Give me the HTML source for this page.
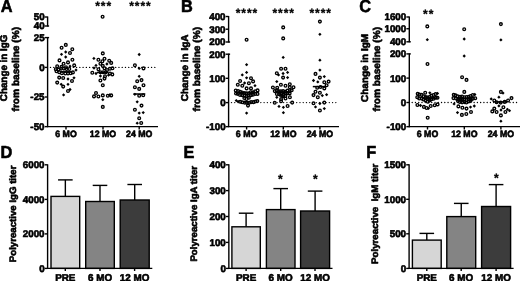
<!DOCTYPE html>
<html><head><meta charset="utf-8"><title>Figure</title>
<style>
html,body{margin:0;padding:0;background:#fff;}
svg{display:block;}
svg text{font-family:'Liberation Sans', Arial, Helvetica, sans-serif;font-weight:bold;text-rendering:geometricPrecision;fill:#000;stroke:#000;stroke-width:0.6px;stroke-linejoin:round;}
</style></head>
<body>
<svg width="520" height="281" viewBox="0 0 520 281">
<rect width="520" height="281" fill="#fff"/>
<text transform="translate(0.80 12.40) scale(0.94 1)" font-size="17.4" text-anchor="start" >A</text>
<text transform="translate(181.00 12.40) scale(0.94 1)" font-size="17.4" text-anchor="start" >B</text>
<text transform="translate(359.30 12.40) scale(0.94 1)" font-size="17.4" text-anchor="start" >C</text>
<text transform="translate(0.60 157.80) scale(0.94 1)" font-size="17.4" text-anchor="start" >D</text>
<text transform="translate(183.60 157.80) scale(0.94 1)" font-size="17.4" text-anchor="start" >E</text>
<text transform="translate(366.20 157.80) scale(0.94 1)" font-size="17.4" text-anchor="start" >F</text>
<line x1="47.60" y1="16.50" x2="47.60" y2="26.50" stroke="#000" stroke-width="1.4" />
<line x1="44.70" y1="17.00" x2="47.60" y2="17.00" stroke="#000" stroke-width="1.4" />
<text transform="translate(44.60 20.40) scale(1.015 1)" font-size="9.7" text-anchor="end" >50</text>
<line x1="44.70" y1="26.00" x2="49.10" y2="26.00" stroke="#000" stroke-width="1.4" />
<text transform="translate(44.60 29.40) scale(1.015 1)" font-size="9.7" text-anchor="end" >40</text>
<line x1="47.60" y1="37.10" x2="47.60" y2="127.15" stroke="#000" stroke-width="1.4" />
<line x1="44.70" y1="37.60" x2="49.10" y2="37.60" stroke="#000" stroke-width="1.4" />
<text transform="translate(44.60 41.00) scale(1.015 1)" font-size="9.7" text-anchor="end" >25</text>
<line x1="44.70" y1="67.40" x2="47.60" y2="67.40" stroke="#000" stroke-width="1.4" />
<text transform="translate(44.60 70.80) scale(1.015 1)" font-size="9.7" text-anchor="end" >0</text>
<line x1="44.70" y1="97.00" x2="47.60" y2="97.00" stroke="#000" stroke-width="1.4" />
<text transform="translate(44.60 100.40) scale(1.015 1)" font-size="9.7" text-anchor="end" >-25</text>
<line x1="44.70" y1="126.65" x2="47.60" y2="126.65" stroke="#000" stroke-width="1.4" />
<text transform="translate(44.60 130.05) scale(1.015 1)" font-size="9.7" text-anchor="end" >-50</text>
<line x1="47.10" y1="126.65" x2="158.00" y2="126.65" stroke="#000" stroke-width="1.4" />
<line x1="66.00" y1="126.65" x2="66.00" y2="129.50" stroke="#000" stroke-width="1.4" />
<text transform="translate(66.00 137.30) scale(0.955 1)" font-size="9.2" text-anchor="middle" >6 MO</text>
<line x1="103.00" y1="126.65" x2="103.00" y2="129.50" stroke="#000" stroke-width="1.4" />
<text transform="translate(103.00 137.30) scale(0.955 1)" font-size="9.2" text-anchor="middle" >12 MO</text>
<line x1="139.20" y1="126.65" x2="139.20" y2="129.50" stroke="#000" stroke-width="1.4" />
<text transform="translate(139.20 137.30) scale(0.955 1)" font-size="9.2" text-anchor="middle" >24 MO</text>
<line x1="50.50" y1="67.40" x2="155.80" y2="67.40" stroke="#000" stroke-width="1.4" stroke-dasharray="0.01 3.25" stroke-linecap="round"/>
<text x="7.10" y="67.90" font-size="9.9" text-anchor="middle" transform="rotate(-90 7.10 67.90)" textLength="66.60" lengthAdjust="spacingAndGlyphs" >Change in IgG</text>
<text x="18.70" y="69.20" font-size="9.9" text-anchor="middle" transform="rotate(-90 18.70 69.20)" textLength="84.60" lengthAdjust="spacingAndGlyphs" >from baseline (%)</text>
<text x="103.70" y="9.50" font-size="12" text-anchor="middle" style="stroke-width:0.3px;letter-spacing:0.95px">***</text>
<text x="140.40" y="9.50" font-size="12" text-anchor="middle" style="stroke-width:0.3px;letter-spacing:0.95px">****</text>
<circle cx="61.60" cy="47.70" r="1.36" fill="none" stroke="#000" stroke-width="1.35"/>
<circle cx="65.80" cy="44.90" r="1.36" fill="none" stroke="#000" stroke-width="1.35"/>
<circle cx="72.30" cy="49.30" r="1.36" fill="none" stroke="#000" stroke-width="1.35"/>
<circle cx="70.00" cy="53.00" r="1.36" fill="none" stroke="#000" stroke-width="1.35"/>
<circle cx="59.50" cy="60.40" r="1.36" fill="none" stroke="#000" stroke-width="1.35"/>
<circle cx="72.40" cy="59.70" r="1.36" fill="none" stroke="#000" stroke-width="1.35"/>
<circle cx="68.00" cy="62.40" r="1.36" fill="none" stroke="#000" stroke-width="1.35"/>
<circle cx="63.60" cy="63.80" r="1.36" fill="none" stroke="#000" stroke-width="1.35"/>
<circle cx="57.20" cy="66.20" r="1.36" fill="none" stroke="#000" stroke-width="1.35"/>
<circle cx="74.20" cy="65.40" r="1.36" fill="none" stroke="#000" stroke-width="1.35"/>
<circle cx="61.50" cy="66.80" r="1.36" fill="none" stroke="#000" stroke-width="1.35"/>
<circle cx="66.00" cy="67.20" r="1.36" fill="none" stroke="#000" stroke-width="1.35"/>
<circle cx="55.80" cy="69.20" r="1.36" fill="none" stroke="#000" stroke-width="1.35"/>
<circle cx="58.50" cy="69.60" r="1.36" fill="none" stroke="#000" stroke-width="1.35"/>
<circle cx="61.20" cy="68.60" r="1.36" fill="none" stroke="#000" stroke-width="1.35"/>
<circle cx="63.90" cy="68.60" r="1.36" fill="none" stroke="#000" stroke-width="1.35"/>
<circle cx="66.60" cy="69.00" r="1.36" fill="none" stroke="#000" stroke-width="1.35"/>
<circle cx="69.30" cy="69.00" r="1.36" fill="none" stroke="#000" stroke-width="1.35"/>
<circle cx="56.50" cy="71.20" r="1.36" fill="none" stroke="#000" stroke-width="1.35"/>
<circle cx="59.20" cy="72.20" r="1.36" fill="none" stroke="#000" stroke-width="1.35"/>
<circle cx="61.90" cy="73.20" r="1.36" fill="none" stroke="#000" stroke-width="1.35"/>
<circle cx="65.30" cy="73.50" r="1.36" fill="none" stroke="#000" stroke-width="1.35"/>
<circle cx="68.00" cy="73.50" r="1.36" fill="none" stroke="#000" stroke-width="1.35"/>
<circle cx="70.70" cy="73.20" r="1.36" fill="none" stroke="#000" stroke-width="1.35"/>
<circle cx="72.90" cy="72.40" r="1.36" fill="none" stroke="#000" stroke-width="1.35"/>
<circle cx="59.20" cy="77.60" r="1.36" fill="none" stroke="#000" stroke-width="1.35"/>
<circle cx="63.20" cy="78.00" r="1.36" fill="none" stroke="#000" stroke-width="1.35"/>
<circle cx="72.00" cy="81.00" r="1.36" fill="none" stroke="#000" stroke-width="1.35"/>
<circle cx="57.20" cy="82.60" r="1.36" fill="none" stroke="#000" stroke-width="1.35"/>
<circle cx="63.20" cy="86.60" r="1.36" fill="none" stroke="#000" stroke-width="1.35"/>
<circle cx="68.00" cy="91.00" r="1.36" fill="none" stroke="#000" stroke-width="1.35"/>
<path d="M65.70 50.35L67.35 52.00L65.70 53.65L64.05 52.00Z" fill="#000"/>
<path d="M61.50 52.65L63.15 54.30L61.50 55.95L59.85 54.30Z" fill="#000"/>
<path d="M65.70 55.35L67.35 57.00L65.70 58.65L64.05 57.00Z" fill="#000"/>
<path d="M70.00 64.55L71.65 66.20L70.00 67.85L68.35 66.20Z" fill="#000"/>
<path d="M76.00 68.35L77.65 70.00L76.00 71.65L74.35 70.00Z" fill="#000"/>
<path d="M68.00 77.35L69.65 79.00L68.00 80.65L66.35 79.00Z" fill="#000"/>
<path d="M74.00 76.15L75.65 77.80L74.00 79.45L72.35 77.80Z" fill="#000"/>
<path d="M61.20 82.65L62.85 84.30L61.20 85.95L59.55 84.30Z" fill="#000"/>
<path d="M68.00 82.65L69.65 84.30L68.00 85.95L66.35 84.30Z" fill="#000"/>
<path d="M70.00 87.85L71.65 89.50L70.00 91.15L68.35 89.50Z" fill="#000"/>
<path d="M63.60 93.25L65.25 94.90L63.60 96.55L61.95 94.90Z" fill="#000"/>
<line x1="60.80" y1="71.80" x2="71.60" y2="71.80" stroke="#000" stroke-width="1.5" />
<circle cx="102.60" cy="16.80" r="1.36" fill="none" stroke="#000" stroke-width="1.35"/>
<circle cx="102.80" cy="53.40" r="1.36" fill="none" stroke="#000" stroke-width="1.35"/>
<circle cx="98.40" cy="59.70" r="1.36" fill="none" stroke="#000" stroke-width="1.35"/>
<circle cx="104.50" cy="58.80" r="1.36" fill="none" stroke="#000" stroke-width="1.35"/>
<circle cx="102.40" cy="61.20" r="1.36" fill="none" stroke="#000" stroke-width="1.35"/>
<circle cx="109.20" cy="60.80" r="1.36" fill="none" stroke="#000" stroke-width="1.35"/>
<circle cx="111.20" cy="62.90" r="1.36" fill="none" stroke="#000" stroke-width="1.35"/>
<circle cx="100.40" cy="63.80" r="1.36" fill="none" stroke="#000" stroke-width="1.35"/>
<circle cx="102.80" cy="65.90" r="1.36" fill="none" stroke="#000" stroke-width="1.35"/>
<circle cx="98.40" cy="69.20" r="1.36" fill="none" stroke="#000" stroke-width="1.35"/>
<circle cx="104.50" cy="68.20" r="1.36" fill="none" stroke="#000" stroke-width="1.35"/>
<circle cx="107.00" cy="70.00" r="1.36" fill="none" stroke="#000" stroke-width="1.35"/>
<circle cx="110.00" cy="68.80" r="1.36" fill="none" stroke="#000" stroke-width="1.35"/>
<circle cx="112.50" cy="68.20" r="1.36" fill="none" stroke="#000" stroke-width="1.35"/>
<circle cx="92.30" cy="72.80" r="1.36" fill="none" stroke="#000" stroke-width="1.35"/>
<circle cx="100.40" cy="72.30" r="1.36" fill="none" stroke="#000" stroke-width="1.35"/>
<circle cx="103.10" cy="72.30" r="1.36" fill="none" stroke="#000" stroke-width="1.35"/>
<circle cx="105.80" cy="72.30" r="1.36" fill="none" stroke="#000" stroke-width="1.35"/>
<circle cx="110.00" cy="73.50" r="1.36" fill="none" stroke="#000" stroke-width="1.35"/>
<circle cx="112.30" cy="74.40" r="1.36" fill="none" stroke="#000" stroke-width="1.35"/>
<circle cx="105.00" cy="76.20" r="1.36" fill="none" stroke="#000" stroke-width="1.35"/>
<circle cx="104.50" cy="78.60" r="1.36" fill="none" stroke="#000" stroke-width="1.35"/>
<circle cx="100.40" cy="80.50" r="1.36" fill="none" stroke="#000" stroke-width="1.35"/>
<circle cx="102.80" cy="85.30" r="1.36" fill="none" stroke="#000" stroke-width="1.35"/>
<circle cx="96.00" cy="93.00" r="1.36" fill="none" stroke="#000" stroke-width="1.35"/>
<circle cx="94.00" cy="96.40" r="1.36" fill="none" stroke="#000" stroke-width="1.35"/>
<circle cx="98.40" cy="96.50" r="1.36" fill="none" stroke="#000" stroke-width="1.35"/>
<circle cx="102.80" cy="95.40" r="1.36" fill="none" stroke="#000" stroke-width="1.35"/>
<circle cx="107.80" cy="95.80" r="1.36" fill="none" stroke="#000" stroke-width="1.35"/>
<circle cx="111.20" cy="95.40" r="1.36" fill="none" stroke="#000" stroke-width="1.35"/>
<circle cx="102.80" cy="106.90" r="1.36" fill="none" stroke="#000" stroke-width="1.35"/>
<path d="M93.90 56.75L95.55 58.40L93.90 60.05L92.25 58.40Z" fill="#000"/>
<path d="M106.90 62.35L108.55 64.00L106.90 65.65L105.25 64.00Z" fill="#000"/>
<path d="M96.00 63.75L97.65 65.40L96.00 67.05L94.35 65.40Z" fill="#000"/>
<path d="M94.00 66.35L95.65 68.00L94.00 69.65L92.35 68.00Z" fill="#000"/>
<path d="M96.00 71.85L97.65 73.50L96.00 75.15L94.35 73.50Z" fill="#000"/>
<path d="M108.50 73.55L110.15 75.20L108.50 76.85L106.85 75.20Z" fill="#000"/>
<path d="M100.40 74.35L102.05 76.00L100.40 77.65L98.75 76.00Z" fill="#000"/>
<path d="M109.60 93.25L111.25 94.90L109.60 96.55L107.95 94.90Z" fill="#000"/>
<path d="M102.80 98.05L104.45 99.70L102.80 101.35L101.15 99.70Z" fill="#000"/>
<line x1="97.00" y1="72.40" x2="108.50" y2="72.40" stroke="#000" stroke-width="1.5" />
<circle cx="134.90" cy="65.30" r="1.36" fill="none" stroke="#000" stroke-width="1.35"/>
<circle cx="143.50" cy="68.40" r="1.36" fill="none" stroke="#000" stroke-width="1.35"/>
<circle cx="137.20" cy="81.20" r="1.36" fill="none" stroke="#000" stroke-width="1.35"/>
<circle cx="141.50" cy="80.10" r="1.36" fill="none" stroke="#000" stroke-width="1.35"/>
<circle cx="143.50" cy="85.30" r="1.36" fill="none" stroke="#000" stroke-width="1.35"/>
<circle cx="134.90" cy="87.30" r="1.36" fill="none" stroke="#000" stroke-width="1.35"/>
<circle cx="139.20" cy="88.90" r="1.36" fill="none" stroke="#000" stroke-width="1.35"/>
<circle cx="139.20" cy="95.70" r="1.36" fill="none" stroke="#000" stroke-width="1.35"/>
<circle cx="143.20" cy="95.30" r="1.36" fill="none" stroke="#000" stroke-width="1.35"/>
<circle cx="141.50" cy="105.60" r="1.36" fill="none" stroke="#000" stroke-width="1.35"/>
<circle cx="134.90" cy="109.70" r="1.36" fill="none" stroke="#000" stroke-width="1.35"/>
<circle cx="139.20" cy="118.20" r="1.36" fill="none" stroke="#000" stroke-width="1.35"/>
<circle cx="141.20" cy="123.00" r="1.36" fill="none" stroke="#000" stroke-width="1.35"/>
<path d="M139.20 52.85L140.85 54.50L139.20 56.15L137.55 54.50Z" fill="#000"/>
<path d="M139.20 66.75L140.85 68.40L139.20 70.05L137.55 68.40Z" fill="#000"/>
<path d="M139.20 74.65L140.85 76.30L139.20 77.95L137.55 76.30Z" fill="#000"/>
<path d="M134.90 92.65L136.55 94.30L134.90 95.95L133.25 94.30Z" fill="#000"/>
<path d="M137.20 100.15L138.85 101.80L137.20 103.45L135.55 101.80Z" fill="#000"/>
<path d="M139.20 111.45L140.85 113.10L139.20 114.75L137.55 113.10Z" fill="#000"/>
<path d="M143.20 110.95L144.85 112.60L143.20 114.25L141.55 112.60Z" fill="#000"/>
<path d="M137.20 121.55L138.85 123.20L137.20 124.85L135.55 123.20Z" fill="#000"/>
<line x1="133.40" y1="94.00" x2="145.30" y2="94.00" stroke="#000" stroke-width="1.5" />
<line x1="228.60" y1="16.00" x2="228.60" y2="42.50" stroke="#000" stroke-width="1.4" />
<line x1="225.70" y1="16.50" x2="228.60" y2="16.50" stroke="#000" stroke-width="1.4" />
<text transform="translate(225.60 19.90) scale(1.015 1)" font-size="9.7" text-anchor="end" >400</text>
<line x1="225.70" y1="29.20" x2="228.60" y2="29.20" stroke="#000" stroke-width="1.4" />
<text transform="translate(225.60 32.60) scale(1.015 1)" font-size="9.7" text-anchor="end" >300</text>
<line x1="225.70" y1="42.00" x2="230.10" y2="42.00" stroke="#000" stroke-width="1.4" />
<text transform="translate(225.60 45.40) scale(1.015 1)" font-size="9.7" text-anchor="end" >200</text>
<line x1="228.60" y1="53.70" x2="228.60" y2="127.15" stroke="#000" stroke-width="1.4" />
<line x1="225.70" y1="54.20" x2="230.10" y2="54.20" stroke="#000" stroke-width="1.4" />
<text transform="translate(225.60 57.60) scale(1.015 1)" font-size="9.7" text-anchor="end" >200</text>
<line x1="225.70" y1="78.30" x2="228.60" y2="78.30" stroke="#000" stroke-width="1.4" />
<text transform="translate(225.60 81.70) scale(1.015 1)" font-size="9.7" text-anchor="end" >100</text>
<line x1="225.70" y1="102.60" x2="228.60" y2="102.60" stroke="#000" stroke-width="1.4" />
<text transform="translate(225.60 106.00) scale(1.015 1)" font-size="9.7" text-anchor="end" >0</text>
<line x1="225.70" y1="126.65" x2="228.60" y2="126.65" stroke="#000" stroke-width="1.4" />
<text transform="translate(225.60 130.05) scale(1.015 1)" font-size="9.7" text-anchor="end" >-100</text>
<line x1="228.10" y1="126.65" x2="339.00" y2="126.65" stroke="#000" stroke-width="1.4" />
<line x1="246.60" y1="126.65" x2="246.60" y2="129.50" stroke="#000" stroke-width="1.4" />
<text transform="translate(246.60 137.30) scale(0.955 1)" font-size="9.2" text-anchor="middle" >6 MO</text>
<line x1="283.30" y1="126.65" x2="283.30" y2="129.50" stroke="#000" stroke-width="1.4" />
<text transform="translate(283.30 137.30) scale(0.955 1)" font-size="9.2" text-anchor="middle" >12 MO</text>
<line x1="319.90" y1="126.65" x2="319.90" y2="129.50" stroke="#000" stroke-width="1.4" />
<text transform="translate(319.90 137.30) scale(0.955 1)" font-size="9.2" text-anchor="middle" >24 MO</text>
<line x1="231.50" y1="102.60" x2="336.00" y2="102.60" stroke="#000" stroke-width="1.4" stroke-dasharray="0.01 3.25" stroke-linecap="round"/>
<text x="188.40" y="67.90" font-size="9.9" text-anchor="middle" transform="rotate(-90 188.40 67.90)" textLength="66.60" lengthAdjust="spacingAndGlyphs" >Change in IgA</text>
<text x="200.30" y="69.20" font-size="9.9" text-anchor="middle" transform="rotate(-90 200.30 69.20)" textLength="84.60" lengthAdjust="spacingAndGlyphs" >from baseline (%)</text>
<text x="247.00" y="16.85" font-size="12" text-anchor="middle" style="stroke-width:0.3px;letter-spacing:0.95px">****</text>
<text x="283.70" y="16.85" font-size="12" text-anchor="middle" style="stroke-width:0.3px;letter-spacing:0.95px">****</text>
<text x="320.70" y="16.85" font-size="12" text-anchor="middle" style="stroke-width:0.3px;letter-spacing:0.95px">****</text>
<circle cx="246.60" cy="39.70" r="1.36" fill="none" stroke="#000" stroke-width="1.35"/>
<circle cx="251.00" cy="78.20" r="1.36" fill="none" stroke="#000" stroke-width="1.35"/>
<circle cx="240.10" cy="81.00" r="1.36" fill="none" stroke="#000" stroke-width="1.35"/>
<circle cx="253.10" cy="81.40" r="1.36" fill="none" stroke="#000" stroke-width="1.35"/>
<circle cx="248.90" cy="83.20" r="1.36" fill="none" stroke="#000" stroke-width="1.35"/>
<circle cx="237.80" cy="84.70" r="1.36" fill="none" stroke="#000" stroke-width="1.35"/>
<circle cx="242.30" cy="85.70" r="1.36" fill="none" stroke="#000" stroke-width="1.35"/>
<circle cx="246.60" cy="88.40" r="1.36" fill="none" stroke="#000" stroke-width="1.35"/>
<circle cx="251.00" cy="88.40" r="1.36" fill="none" stroke="#000" stroke-width="1.35"/>
<circle cx="248.00" cy="105.60" r="1.36" fill="none" stroke="#000" stroke-width="1.35"/>
<circle cx="235.76" cy="90.49" r="1.36" fill="none" stroke="#000" stroke-width="1.35"/>
<circle cx="238.08" cy="90.98" r="1.36" fill="none" stroke="#000" stroke-width="1.35"/>
<circle cx="240.17" cy="91.80" r="1.36" fill="none" stroke="#000" stroke-width="1.35"/>
<circle cx="242.08" cy="92.49" r="1.36" fill="none" stroke="#000" stroke-width="1.35"/>
<circle cx="244.22" cy="92.98" r="1.36" fill="none" stroke="#000" stroke-width="1.35"/>
<circle cx="246.38" cy="93.23" r="1.36" fill="none" stroke="#000" stroke-width="1.35"/>
<circle cx="248.71" cy="93.33" r="1.36" fill="none" stroke="#000" stroke-width="1.35"/>
<circle cx="250.71" cy="92.23" r="1.36" fill="none" stroke="#000" stroke-width="1.35"/>
<circle cx="253.11" cy="92.32" r="1.36" fill="none" stroke="#000" stroke-width="1.35"/>
<circle cx="255.24" cy="91.27" r="1.36" fill="none" stroke="#000" stroke-width="1.35"/>
<circle cx="257.59" cy="90.39" r="1.36" fill="none" stroke="#000" stroke-width="1.35"/>
<circle cx="236.03" cy="93.51" r="1.36" fill="none" stroke="#000" stroke-width="1.35"/>
<circle cx="237.82" cy="93.86" r="1.36" fill="none" stroke="#000" stroke-width="1.35"/>
<circle cx="240.05" cy="94.98" r="1.36" fill="none" stroke="#000" stroke-width="1.35"/>
<circle cx="242.14" cy="95.27" r="1.36" fill="none" stroke="#000" stroke-width="1.35"/>
<circle cx="244.52" cy="95.59" r="1.36" fill="none" stroke="#000" stroke-width="1.35"/>
<circle cx="246.62" cy="95.81" r="1.36" fill="none" stroke="#000" stroke-width="1.35"/>
<circle cx="248.53" cy="95.44" r="1.36" fill="none" stroke="#000" stroke-width="1.35"/>
<circle cx="250.99" cy="95.13" r="1.36" fill="none" stroke="#000" stroke-width="1.35"/>
<circle cx="252.96" cy="94.78" r="1.36" fill="none" stroke="#000" stroke-width="1.35"/>
<circle cx="255.18" cy="94.02" r="1.36" fill="none" stroke="#000" stroke-width="1.35"/>
<circle cx="257.50" cy="93.88" r="1.36" fill="none" stroke="#000" stroke-width="1.35"/>
<circle cx="244.32" cy="98.07" r="1.36" fill="none" stroke="#000" stroke-width="1.35"/>
<circle cx="246.61" cy="98.94" r="1.36" fill="none" stroke="#000" stroke-width="1.35"/>
<circle cx="248.86" cy="97.81" r="1.36" fill="none" stroke="#000" stroke-width="1.35"/>
<circle cx="240.18" cy="101.73" r="1.36" fill="none" stroke="#000" stroke-width="1.35"/>
<circle cx="242.27" cy="102.31" r="1.36" fill="none" stroke="#000" stroke-width="1.35"/>
<circle cx="244.78" cy="102.65" r="1.36" fill="none" stroke="#000" stroke-width="1.35"/>
<circle cx="246.99" cy="102.83" r="1.36" fill="none" stroke="#000" stroke-width="1.35"/>
<circle cx="249.05" cy="102.66" r="1.36" fill="none" stroke="#000" stroke-width="1.35"/>
<circle cx="251.14" cy="102.12" r="1.36" fill="none" stroke="#000" stroke-width="1.35"/>
<circle cx="253.42" cy="102.14" r="1.36" fill="none" stroke="#000" stroke-width="1.35"/>
<circle cx="255.39" cy="101.47" r="1.36" fill="none" stroke="#000" stroke-width="1.35"/>
<circle cx="257.33" cy="101.08" r="1.36" fill="none" stroke="#000" stroke-width="1.35"/>
<path d="M246.60 63.05L248.25 64.70L246.60 66.35L244.95 64.70Z" fill="#000"/>
<path d="M246.60 70.75L248.25 72.40L246.60 74.05L244.95 72.40Z" fill="#000"/>
<path d="M242.30 73.25L243.95 74.90L242.30 76.55L240.65 74.90Z" fill="#000"/>
<path d="M246.60 76.15L248.25 77.80L246.60 79.45L244.95 77.80Z" fill="#000"/>
<path d="M244.60 81.35L246.25 83.00L244.60 84.65L242.95 83.00Z" fill="#000"/>
<path d="M255.00 84.05L256.65 85.70L255.00 87.35L253.35 85.70Z" fill="#000"/>
<path d="M246.60 111.45L248.25 113.10L246.60 114.75L244.95 113.10Z" fill="#000"/>
<path d="M236.29 98.91L237.94 100.56L236.29 102.21L234.64 100.56Z" fill="#000"/>
<path d="M238.16 99.90L239.81 101.55L238.16 103.20L236.51 101.55Z" fill="#000"/>
<line x1="238.50" y1="92.80" x2="254.00" y2="92.80" stroke="#000" stroke-width="1.5" />
<circle cx="283.20" cy="27.40" r="1.36" fill="none" stroke="#000" stroke-width="1.35"/>
<circle cx="283.20" cy="38.40" r="1.36" fill="none" stroke="#000" stroke-width="1.35"/>
<circle cx="281.10" cy="68.80" r="1.36" fill="none" stroke="#000" stroke-width="1.35"/>
<circle cx="285.50" cy="68.80" r="1.36" fill="none" stroke="#000" stroke-width="1.35"/>
<circle cx="276.80" cy="73.20" r="1.36" fill="none" stroke="#000" stroke-width="1.35"/>
<circle cx="283.10" cy="77.60" r="1.36" fill="none" stroke="#000" stroke-width="1.35"/>
<circle cx="280.90" cy="84.80" r="1.36" fill="none" stroke="#000" stroke-width="1.35"/>
<circle cx="285.50" cy="85.70" r="1.36" fill="none" stroke="#000" stroke-width="1.35"/>
<circle cx="289.80" cy="84.20" r="1.36" fill="none" stroke="#000" stroke-width="1.35"/>
<circle cx="272.90" cy="87.50" r="1.36" fill="none" stroke="#000" stroke-width="1.35"/>
<circle cx="277.20" cy="87.80" r="1.36" fill="none" stroke="#000" stroke-width="1.35"/>
<circle cx="289.80" cy="87.20" r="1.36" fill="none" stroke="#000" stroke-width="1.35"/>
<circle cx="293.50" cy="87.20" r="1.36" fill="none" stroke="#000" stroke-width="1.35"/>
<circle cx="281.10" cy="99.20" r="1.36" fill="none" stroke="#000" stroke-width="1.35"/>
<circle cx="285.50" cy="98.50" r="1.36" fill="none" stroke="#000" stroke-width="1.35"/>
<circle cx="289.90" cy="97.20" r="1.36" fill="none" stroke="#000" stroke-width="1.35"/>
<circle cx="274.70" cy="102.80" r="1.36" fill="none" stroke="#000" stroke-width="1.35"/>
<circle cx="292.20" cy="102.60" r="1.36" fill="none" stroke="#000" stroke-width="1.35"/>
<circle cx="281.10" cy="101.20" r="1.36" fill="none" stroke="#000" stroke-width="1.35"/>
<circle cx="287.60" cy="106.00" r="1.36" fill="none" stroke="#000" stroke-width="1.35"/>
<circle cx="274.77" cy="91.09" r="1.36" fill="none" stroke="#000" stroke-width="1.35"/>
<circle cx="277.01" cy="90.40" r="1.36" fill="none" stroke="#000" stroke-width="1.35"/>
<circle cx="278.94" cy="91.24" r="1.36" fill="none" stroke="#000" stroke-width="1.35"/>
<circle cx="280.91" cy="91.25" r="1.36" fill="none" stroke="#000" stroke-width="1.35"/>
<circle cx="283.13" cy="91.06" r="1.36" fill="none" stroke="#000" stroke-width="1.35"/>
<circle cx="285.23" cy="91.68" r="1.36" fill="none" stroke="#000" stroke-width="1.35"/>
<circle cx="287.41" cy="90.65" r="1.36" fill="none" stroke="#000" stroke-width="1.35"/>
<circle cx="289.70" cy="91.22" r="1.36" fill="none" stroke="#000" stroke-width="1.35"/>
<circle cx="291.69" cy="90.33" r="1.36" fill="none" stroke="#000" stroke-width="1.35"/>
<circle cx="276.87" cy="93.94" r="1.36" fill="none" stroke="#000" stroke-width="1.35"/>
<circle cx="279.16" cy="94.21" r="1.36" fill="none" stroke="#000" stroke-width="1.35"/>
<circle cx="281.04" cy="93.88" r="1.36" fill="none" stroke="#000" stroke-width="1.35"/>
<circle cx="283.23" cy="94.84" r="1.36" fill="none" stroke="#000" stroke-width="1.35"/>
<circle cx="285.68" cy="93.51" r="1.36" fill="none" stroke="#000" stroke-width="1.35"/>
<circle cx="287.44" cy="93.32" r="1.36" fill="none" stroke="#000" stroke-width="1.35"/>
<circle cx="289.62" cy="93.38" r="1.36" fill="none" stroke="#000" stroke-width="1.35"/>
<circle cx="281.19" cy="95.69" r="1.36" fill="none" stroke="#000" stroke-width="1.35"/>
<circle cx="283.05" cy="96.23" r="1.36" fill="none" stroke="#000" stroke-width="1.35"/>
<circle cx="285.38" cy="95.96" r="1.36" fill="none" stroke="#000" stroke-width="1.35"/>
<path d="M283.20 55.75L284.85 57.40L283.20 59.05L281.55 57.40Z" fill="#000"/>
<path d="M278.50 73.25L280.15 74.90L278.50 76.55L276.85 74.90Z" fill="#000"/>
<path d="M283.10 71.85L284.75 73.50L283.10 75.15L281.45 73.50Z" fill="#000"/>
<path d="M287.60 70.75L289.25 72.40L287.60 74.05L285.95 72.40Z" fill="#000"/>
<path d="M287.60 75.95L289.25 77.60L287.60 79.25L285.95 77.60Z" fill="#000"/>
<path d="M276.80 79.95L278.45 81.60L276.80 83.25L275.15 81.60Z" fill="#000"/>
<path d="M276.80 95.65L278.45 97.30L276.80 98.95L275.15 97.30Z" fill="#000"/>
<path d="M279.00 104.75L280.65 106.40L279.00 108.05L277.35 106.40Z" fill="#000"/>
<path d="M283.40 105.65L285.05 107.30L283.40 108.95L281.75 107.30Z" fill="#000"/>
<path d="M283.40 111.05L285.05 112.70L283.40 114.35L281.75 112.70Z" fill="#000"/>
<line x1="275.50" y1="92.00" x2="291.00" y2="92.00" stroke="#000" stroke-width="1.5" />
<circle cx="319.90" cy="21.60" r="1.36" fill="none" stroke="#000" stroke-width="1.35"/>
<circle cx="315.50" cy="73.90" r="1.36" fill="none" stroke="#000" stroke-width="1.35"/>
<circle cx="319.90" cy="77.60" r="1.36" fill="none" stroke="#000" stroke-width="1.35"/>
<circle cx="324.30" cy="82.30" r="1.36" fill="none" stroke="#000" stroke-width="1.35"/>
<circle cx="328.60" cy="81.60" r="1.36" fill="none" stroke="#000" stroke-width="1.35"/>
<circle cx="326.60" cy="85.30" r="1.36" fill="none" stroke="#000" stroke-width="1.35"/>
<circle cx="324.30" cy="88.40" r="1.36" fill="none" stroke="#000" stroke-width="1.35"/>
<circle cx="320.50" cy="87.00" r="1.36" fill="none" stroke="#000" stroke-width="1.35"/>
<circle cx="317.20" cy="87.70" r="1.36" fill="none" stroke="#000" stroke-width="1.35"/>
<circle cx="315.50" cy="91.70" r="1.36" fill="none" stroke="#000" stroke-width="1.35"/>
<circle cx="319.90" cy="92.70" r="1.36" fill="none" stroke="#000" stroke-width="1.35"/>
<circle cx="313.50" cy="95.10" r="1.36" fill="none" stroke="#000" stroke-width="1.35"/>
<circle cx="317.80" cy="97.30" r="1.36" fill="none" stroke="#000" stroke-width="1.35"/>
<circle cx="313.50" cy="103.20" r="1.36" fill="none" stroke="#000" stroke-width="1.35"/>
<circle cx="324.30" cy="102.60" r="1.36" fill="none" stroke="#000" stroke-width="1.35"/>
<circle cx="319.90" cy="110.50" r="1.36" fill="none" stroke="#000" stroke-width="1.35"/>
<path d="M319.90 32.65L321.55 34.30L319.90 35.95L318.25 34.30Z" fill="#000"/>
<path d="M319.90 58.55L321.55 60.20L319.90 61.85L318.25 60.20Z" fill="#000"/>
<path d="M319.90 68.45L321.55 70.10L319.90 71.75L318.25 70.10Z" fill="#000"/>
<path d="M324.30 74.95L325.95 76.60L324.30 78.25L322.65 76.60Z" fill="#000"/>
<path d="M313.50 78.85L315.15 80.50L313.50 82.15L311.85 80.50Z" fill="#000"/>
<path d="M317.80 80.25L319.45 81.90L317.80 83.55L316.15 81.90Z" fill="#000"/>
<path d="M322.30 93.95L323.95 95.60L322.30 97.25L320.65 95.60Z" fill="#000"/>
<path d="M326.60 93.05L328.25 94.70L326.60 96.35L324.95 94.70Z" fill="#000"/>
<path d="M319.90 101.85L321.55 103.50L319.90 105.15L318.25 103.50Z" fill="#000"/>
<path d="M315.50 105.25L317.15 106.90L315.50 108.55L313.85 106.90Z" fill="#000"/>
<path d="M324.30 106.95L325.95 108.60L324.30 110.25L322.65 108.60Z" fill="#000"/>
<line x1="312.80" y1="86.60" x2="326.60" y2="86.60" stroke="#000" stroke-width="1.5" />
<line x1="409.30" y1="16.50" x2="409.30" y2="42.30" stroke="#000" stroke-width="1.4" />
<line x1="406.40" y1="17.00" x2="409.30" y2="17.00" stroke="#000" stroke-width="1.4" />
<text transform="translate(406.30 20.40) scale(1.015 1)" font-size="9.7" text-anchor="end" >1600</text>
<line x1="406.40" y1="28.75" x2="409.30" y2="28.75" stroke="#000" stroke-width="1.4" />
<text transform="translate(406.30 32.15) scale(1.015 1)" font-size="9.7" text-anchor="end" >1000</text>
<line x1="406.40" y1="41.80" x2="410.80" y2="41.80" stroke="#000" stroke-width="1.4" />
<text transform="translate(406.30 45.20) scale(1.015 1)" font-size="9.7" text-anchor="end" >400</text>
<line x1="409.30" y1="53.40" x2="409.30" y2="127.15" stroke="#000" stroke-width="1.4" />
<line x1="406.40" y1="53.90" x2="410.80" y2="53.90" stroke="#000" stroke-width="1.4" />
<text transform="translate(406.30 57.30) scale(1.015 1)" font-size="9.7" text-anchor="end" >200</text>
<line x1="406.40" y1="78.10" x2="409.30" y2="78.10" stroke="#000" stroke-width="1.4" />
<text transform="translate(406.30 81.50) scale(1.015 1)" font-size="9.7" text-anchor="end" >100</text>
<line x1="406.40" y1="102.50" x2="409.30" y2="102.50" stroke="#000" stroke-width="1.4" />
<text transform="translate(406.30 105.90) scale(1.015 1)" font-size="9.7" text-anchor="end" >0</text>
<line x1="406.40" y1="126.65" x2="409.30" y2="126.65" stroke="#000" stroke-width="1.4" />
<text transform="translate(406.30 130.05) scale(1.015 1)" font-size="9.7" text-anchor="end" >-100</text>
<line x1="408.80" y1="126.65" x2="520.00" y2="126.65" stroke="#000" stroke-width="1.4" />
<line x1="427.50" y1="126.65" x2="427.50" y2="129.50" stroke="#000" stroke-width="1.4" />
<text transform="translate(427.50 137.30) scale(0.955 1)" font-size="9.2" text-anchor="middle" >6 MO</text>
<line x1="464.30" y1="126.65" x2="464.30" y2="129.50" stroke="#000" stroke-width="1.4" />
<text transform="translate(464.30 137.30) scale(0.955 1)" font-size="9.2" text-anchor="middle" >12 MO</text>
<line x1="500.90" y1="126.65" x2="500.90" y2="129.50" stroke="#000" stroke-width="1.4" />
<text transform="translate(500.90 137.30) scale(0.955 1)" font-size="9.2" text-anchor="middle" >24 MO</text>
<line x1="412.20" y1="102.50" x2="517.50" y2="102.50" stroke="#000" stroke-width="1.4" stroke-dasharray="0.01 3.25" stroke-linecap="round"/>
<text x="367.90" y="67.90" font-size="9.9" text-anchor="middle" transform="rotate(-90 367.90 67.90)" textLength="68.00" lengthAdjust="spacingAndGlyphs" >Change in IgM</text>
<text x="380.10" y="69.20" font-size="9.9" text-anchor="middle" transform="rotate(-90 380.10 69.20)" textLength="84.60" lengthAdjust="spacingAndGlyphs" >from baseline (%)</text>
<text x="428.70" y="17.95" font-size="12" text-anchor="middle" style="stroke-width:0.3px;letter-spacing:0.95px">**</text>
<circle cx="427.30" cy="26.40" r="1.36" fill="none" stroke="#000" stroke-width="1.35"/>
<circle cx="427.50" cy="64.00" r="1.36" fill="none" stroke="#000" stroke-width="1.35"/>
<circle cx="425.20" cy="92.80" r="1.36" fill="none" stroke="#000" stroke-width="1.35"/>
<circle cx="417.40" cy="105.00" r="1.36" fill="none" stroke="#000" stroke-width="1.35"/>
<circle cx="423.90" cy="106.90" r="1.36" fill="none" stroke="#000" stroke-width="1.35"/>
<circle cx="426.60" cy="108.00" r="1.36" fill="none" stroke="#000" stroke-width="1.35"/>
<circle cx="430.70" cy="106.00" r="1.36" fill="none" stroke="#000" stroke-width="1.35"/>
<circle cx="434.70" cy="105.30" r="1.36" fill="none" stroke="#000" stroke-width="1.35"/>
<circle cx="437.60" cy="104.40" r="1.36" fill="none" stroke="#000" stroke-width="1.35"/>
<circle cx="427.70" cy="117.70" r="1.36" fill="none" stroke="#000" stroke-width="1.35"/>
<circle cx="417.68" cy="93.87" r="1.36" fill="none" stroke="#000" stroke-width="1.35"/>
<circle cx="419.49" cy="94.59" r="1.36" fill="none" stroke="#000" stroke-width="1.35"/>
<circle cx="421.60" cy="94.86" r="1.36" fill="none" stroke="#000" stroke-width="1.35"/>
<circle cx="423.74" cy="96.29" r="1.36" fill="none" stroke="#000" stroke-width="1.35"/>
<circle cx="425.76" cy="97.09" r="1.36" fill="none" stroke="#000" stroke-width="1.35"/>
<circle cx="427.55" cy="97.51" r="1.36" fill="none" stroke="#000" stroke-width="1.35"/>
<circle cx="429.43" cy="96.94" r="1.36" fill="none" stroke="#000" stroke-width="1.35"/>
<circle cx="431.44" cy="95.65" r="1.36" fill="none" stroke="#000" stroke-width="1.35"/>
<circle cx="433.54" cy="94.96" r="1.36" fill="none" stroke="#000" stroke-width="1.35"/>
<circle cx="435.64" cy="94.08" r="1.36" fill="none" stroke="#000" stroke-width="1.35"/>
<circle cx="417.25" cy="97.18" r="1.36" fill="none" stroke="#000" stroke-width="1.35"/>
<circle cx="419.24" cy="98.44" r="1.36" fill="none" stroke="#000" stroke-width="1.35"/>
<circle cx="421.57" cy="98.58" r="1.36" fill="none" stroke="#000" stroke-width="1.35"/>
<circle cx="423.42" cy="99.56" r="1.36" fill="none" stroke="#000" stroke-width="1.35"/>
<circle cx="425.50" cy="100.16" r="1.36" fill="none" stroke="#000" stroke-width="1.35"/>
<circle cx="427.77" cy="101.74" r="1.36" fill="none" stroke="#000" stroke-width="1.35"/>
<circle cx="429.61" cy="100.49" r="1.36" fill="none" stroke="#000" stroke-width="1.35"/>
<circle cx="431.45" cy="99.34" r="1.36" fill="none" stroke="#000" stroke-width="1.35"/>
<circle cx="433.61" cy="98.69" r="1.36" fill="none" stroke="#000" stroke-width="1.35"/>
<circle cx="435.88" cy="97.80" r="1.36" fill="none" stroke="#000" stroke-width="1.35"/>
<circle cx="437.51" cy="97.71" r="1.36" fill="none" stroke="#000" stroke-width="1.35"/>
<circle cx="425.58" cy="98.28" r="1.36" fill="none" stroke="#000" stroke-width="1.35"/>
<circle cx="427.62" cy="98.97" r="1.36" fill="none" stroke="#000" stroke-width="1.35"/>
<circle cx="429.64" cy="99.03" r="1.36" fill="none" stroke="#000" stroke-width="1.35"/>
<path d="M427.30 38.05L428.95 39.70L427.30 41.35L425.65 39.70Z" fill="#000"/>
<path d="M429.80 91.15L431.45 92.80L429.80 94.45L428.15 92.80Z" fill="#000"/>
<path d="M420.50 103.85L422.15 105.50L420.50 107.15L418.85 105.50Z" fill="#000"/>
<path d="M428.40 106.75L430.05 108.40L428.40 110.05L426.75 108.40Z" fill="#000"/>
<path d="M437.50 91.74L439.15 93.39L437.50 95.04L435.85 93.39Z" fill="#000"/>
<line x1="422.60" y1="98.20" x2="437.40" y2="98.20" stroke="#000" stroke-width="1.5" />
<circle cx="464.20" cy="29.30" r="1.36" fill="none" stroke="#000" stroke-width="1.35"/>
<circle cx="462.10" cy="77.20" r="1.36" fill="none" stroke="#000" stroke-width="1.35"/>
<circle cx="466.50" cy="79.90" r="1.36" fill="none" stroke="#000" stroke-width="1.35"/>
<circle cx="464.30" cy="91.90" r="1.36" fill="none" stroke="#000" stroke-width="1.35"/>
<circle cx="458.40" cy="106.40" r="1.36" fill="none" stroke="#000" stroke-width="1.35"/>
<circle cx="462.40" cy="107.70" r="1.36" fill="none" stroke="#000" stroke-width="1.35"/>
<circle cx="466.50" cy="108.60" r="1.36" fill="none" stroke="#000" stroke-width="1.35"/>
<circle cx="461.90" cy="114.90" r="1.36" fill="none" stroke="#000" stroke-width="1.35"/>
<circle cx="466.30" cy="114.00" r="1.36" fill="none" stroke="#000" stroke-width="1.35"/>
<circle cx="471.00" cy="112.00" r="1.36" fill="none" stroke="#000" stroke-width="1.35"/>
<circle cx="453.73" cy="94.85" r="1.36" fill="none" stroke="#000" stroke-width="1.35"/>
<circle cx="455.58" cy="95.32" r="1.36" fill="none" stroke="#000" stroke-width="1.35"/>
<circle cx="457.68" cy="96.28" r="1.36" fill="none" stroke="#000" stroke-width="1.35"/>
<circle cx="460.02" cy="96.71" r="1.36" fill="none" stroke="#000" stroke-width="1.35"/>
<circle cx="462.06" cy="96.47" r="1.36" fill="none" stroke="#000" stroke-width="1.35"/>
<circle cx="464.46" cy="97.24" r="1.36" fill="none" stroke="#000" stroke-width="1.35"/>
<circle cx="466.63" cy="96.99" r="1.36" fill="none" stroke="#000" stroke-width="1.35"/>
<circle cx="468.76" cy="96.68" r="1.36" fill="none" stroke="#000" stroke-width="1.35"/>
<circle cx="470.61" cy="96.05" r="1.36" fill="none" stroke="#000" stroke-width="1.35"/>
<circle cx="472.83" cy="95.02" r="1.36" fill="none" stroke="#000" stroke-width="1.35"/>
<circle cx="453.43" cy="98.10" r="1.36" fill="none" stroke="#000" stroke-width="1.35"/>
<circle cx="455.93" cy="98.55" r="1.36" fill="none" stroke="#000" stroke-width="1.35"/>
<circle cx="458.07" cy="99.56" r="1.36" fill="none" stroke="#000" stroke-width="1.35"/>
<circle cx="460.23" cy="99.38" r="1.36" fill="none" stroke="#000" stroke-width="1.35"/>
<circle cx="462.01" cy="99.48" r="1.36" fill="none" stroke="#000" stroke-width="1.35"/>
<circle cx="464.15" cy="99.53" r="1.36" fill="none" stroke="#000" stroke-width="1.35"/>
<circle cx="466.51" cy="100.09" r="1.36" fill="none" stroke="#000" stroke-width="1.35"/>
<circle cx="468.77" cy="99.48" r="1.36" fill="none" stroke="#000" stroke-width="1.35"/>
<circle cx="470.83" cy="99.39" r="1.36" fill="none" stroke="#000" stroke-width="1.35"/>
<circle cx="472.69" cy="98.74" r="1.36" fill="none" stroke="#000" stroke-width="1.35"/>
<circle cx="475.25" cy="98.18" r="1.36" fill="none" stroke="#000" stroke-width="1.35"/>
<circle cx="457.98" cy="101.01" r="1.36" fill="none" stroke="#000" stroke-width="1.35"/>
<circle cx="459.84" cy="101.94" r="1.36" fill="none" stroke="#000" stroke-width="1.35"/>
<circle cx="462.07" cy="102.34" r="1.36" fill="none" stroke="#000" stroke-width="1.35"/>
<circle cx="464.54" cy="102.11" r="1.36" fill="none" stroke="#000" stroke-width="1.35"/>
<circle cx="466.40" cy="102.47" r="1.36" fill="none" stroke="#000" stroke-width="1.35"/>
<circle cx="468.71" cy="101.38" r="1.36" fill="none" stroke="#000" stroke-width="1.35"/>
<circle cx="470.56" cy="100.72" r="1.36" fill="none" stroke="#000" stroke-width="1.35"/>
<path d="M464.20 37.35L465.85 39.00L464.20 40.65L462.55 39.00Z" fill="#000"/>
<path d="M464.20 54.35L465.85 56.00L464.20 57.65L462.55 56.00Z" fill="#000"/>
<path d="M454.10 102.25L455.75 103.90L454.10 105.55L452.45 103.90Z" fill="#000"/>
<path d="M470.50 105.45L472.15 107.10L470.50 108.75L468.85 107.10Z" fill="#000"/>
<path d="M474.30 104.35L475.95 106.00L474.30 107.65L472.65 106.00Z" fill="#000"/>
<path d="M457.50 110.95L459.15 112.60L457.50 114.25L455.85 112.60Z" fill="#000"/>
<path d="M474.81 92.83L476.46 94.48L474.81 96.13L473.16 94.48Z" fill="#000"/>
<line x1="457.20" y1="98.20" x2="472.60" y2="98.20" stroke="#000" stroke-width="1.5" />
<circle cx="500.90" cy="24.10" r="1.36" fill="none" stroke="#000" stroke-width="1.35"/>
<circle cx="500.90" cy="91.90" r="1.36" fill="none" stroke="#000" stroke-width="1.35"/>
<circle cx="511.50" cy="98.10" r="1.36" fill="none" stroke="#000" stroke-width="1.35"/>
<circle cx="494.30" cy="100.50" r="1.36" fill="none" stroke="#000" stroke-width="1.35"/>
<circle cx="508.10" cy="100.50" r="1.36" fill="none" stroke="#000" stroke-width="1.35"/>
<circle cx="496.60" cy="102.30" r="1.36" fill="none" stroke="#000" stroke-width="1.35"/>
<circle cx="500.70" cy="102.60" r="1.36" fill="none" stroke="#000" stroke-width="1.35"/>
<circle cx="504.70" cy="101.90" r="1.36" fill="none" stroke="#000" stroke-width="1.35"/>
<circle cx="503.40" cy="107.30" r="1.36" fill="none" stroke="#000" stroke-width="1.35"/>
<circle cx="494.30" cy="108.60" r="1.36" fill="none" stroke="#000" stroke-width="1.35"/>
<circle cx="492.30" cy="111.40" r="1.36" fill="none" stroke="#000" stroke-width="1.35"/>
<circle cx="496.60" cy="112.00" r="1.36" fill="none" stroke="#000" stroke-width="1.35"/>
<circle cx="505.40" cy="112.00" r="1.36" fill="none" stroke="#000" stroke-width="1.35"/>
<circle cx="500.90" cy="115.40" r="1.36" fill="none" stroke="#000" stroke-width="1.35"/>
<path d="M500.90 38.25L502.55 39.90L500.90 41.55L499.25 39.90Z" fill="#000"/>
<path d="M503.00 91.45L504.65 93.10L503.00 94.75L501.35 93.10Z" fill="#000"/>
<path d="M498.90 95.55L500.55 97.20L498.90 98.85L497.25 97.20Z" fill="#000"/>
<path d="M491.20 97.25L492.85 98.90L491.20 100.55L489.55 98.90Z" fill="#000"/>
<path d="M498.90 104.25L500.55 105.90L498.90 107.55L497.25 105.90Z" fill="#000"/>
<path d="M501.00 108.35L502.65 110.00L501.00 111.65L499.35 110.00Z" fill="#000"/>
<path d="M507.40 107.65L509.05 109.30L507.40 110.95L505.75 109.30Z" fill="#000"/>
<path d="M509.50 109.05L511.15 110.70L509.50 112.35L507.85 110.70Z" fill="#000"/>
<path d="M500.90 119.55L502.55 121.20L500.90 122.85L499.25 121.20Z" fill="#000"/>
<line x1="495.00" y1="101.90" x2="507.00" y2="101.90" stroke="#000" stroke-width="1.5" />
<line x1="47.60" y1="164.30" x2="47.60" y2="268.90" stroke="#000" stroke-width="1.4" />
<line x1="44.70" y1="164.80" x2="47.60" y2="164.80" stroke="#000" stroke-width="1.4" />
<text transform="translate(44.60 168.20) scale(1.015 1)" font-size="9.7" text-anchor="end" >6000</text>
<line x1="44.70" y1="199.40" x2="47.60" y2="199.40" stroke="#000" stroke-width="1.4" />
<text transform="translate(44.60 202.80) scale(1.015 1)" font-size="9.7" text-anchor="end" >4000</text>
<line x1="44.70" y1="233.90" x2="47.60" y2="233.90" stroke="#000" stroke-width="1.4" />
<text transform="translate(44.60 237.30) scale(1.015 1)" font-size="9.7" text-anchor="end" >2000</text>
<line x1="44.70" y1="268.40" x2="47.60" y2="268.40" stroke="#000" stroke-width="1.4" />
<text transform="translate(44.60 271.80) scale(1.015 1)" font-size="9.7" text-anchor="end" >0</text>
<line x1="65.35" y1="179.90" x2="65.35" y2="196.40" stroke="#000" stroke-width="1.4" />
<line x1="58.05" y1="179.90" x2="72.65" y2="179.90" stroke="#000" stroke-width="1.4" />
<rect x="51.00" y="196.40" width="28.70" height="72.00" fill="#d6d6d6" stroke="#000" stroke-width="1.4"/>
<line x1="100.00" y1="185.40" x2="100.00" y2="201.50" stroke="#000" stroke-width="1.4" />
<line x1="92.70" y1="185.40" x2="107.30" y2="185.40" stroke="#000" stroke-width="1.4" />
<rect x="85.70" y="201.50" width="28.60" height="66.90" fill="#848484" stroke="#000" stroke-width="1.4"/>
<line x1="134.70" y1="184.50" x2="134.70" y2="200.00" stroke="#000" stroke-width="1.4" />
<line x1="127.40" y1="184.50" x2="142.00" y2="184.50" stroke="#000" stroke-width="1.4" />
<rect x="120.20" y="200.00" width="29.00" height="68.40" fill="#3c3c3c" stroke="#000" stroke-width="1.4"/>
<line x1="47.10" y1="268.40" x2="152.30" y2="268.40" stroke="#000" stroke-width="1.4" />
<line x1="65.30" y1="268.40" x2="65.30" y2="271.00" stroke="#000" stroke-width="1.4" />
<text transform="translate(65.30 280.50) scale(1.0 1)" font-size="9.9" text-anchor="middle" >PRE</text>
<line x1="100.00" y1="268.40" x2="100.00" y2="271.00" stroke="#000" stroke-width="1.4" />
<text transform="translate(100.00 280.50) scale(1.0 1)" font-size="9.9" text-anchor="middle" >6 MO</text>
<line x1="134.60" y1="268.40" x2="134.60" y2="271.00" stroke="#000" stroke-width="1.4" />
<text transform="translate(134.60 280.50) scale(1.0 1)" font-size="9.9" text-anchor="middle" >12 MO</text>
<text x="15.90" y="213.90" font-size="9.4" text-anchor="middle" transform="rotate(-90 15.90 213.90)" textLength="96.60" lengthAdjust="spacingAndGlyphs" >Polyreactive IgG titer</text>
<line x1="228.85" y1="164.30" x2="228.85" y2="268.90" stroke="#000" stroke-width="1.4" />
<line x1="225.95" y1="164.80" x2="228.85" y2="164.80" stroke="#000" stroke-width="1.4" />
<text transform="translate(225.85 168.20) scale(1.015 1)" font-size="9.7" text-anchor="end" >400</text>
<line x1="225.95" y1="190.60" x2="228.85" y2="190.60" stroke="#000" stroke-width="1.4" />
<text transform="translate(225.85 194.00) scale(1.015 1)" font-size="9.7" text-anchor="end" >300</text>
<line x1="225.95" y1="216.50" x2="228.85" y2="216.50" stroke="#000" stroke-width="1.4" />
<text transform="translate(225.85 219.90) scale(1.015 1)" font-size="9.7" text-anchor="end" >200</text>
<line x1="225.95" y1="242.40" x2="228.85" y2="242.40" stroke="#000" stroke-width="1.4" />
<text transform="translate(225.85 245.80) scale(1.015 1)" font-size="9.7" text-anchor="end" >100</text>
<line x1="225.95" y1="268.40" x2="228.85" y2="268.40" stroke="#000" stroke-width="1.4" />
<text transform="translate(225.85 271.80) scale(1.015 1)" font-size="9.7" text-anchor="end" >0</text>
<line x1="246.10" y1="213.20" x2="246.10" y2="226.80" stroke="#000" stroke-width="1.4" />
<line x1="238.80" y1="213.20" x2="253.40" y2="213.20" stroke="#000" stroke-width="1.4" />
<rect x="231.90" y="226.80" width="28.40" height="41.60" fill="#d6d6d6" stroke="#000" stroke-width="1.4"/>
<line x1="280.70" y1="188.60" x2="280.70" y2="209.60" stroke="#000" stroke-width="1.4" />
<line x1="273.40" y1="188.60" x2="288.00" y2="188.60" stroke="#000" stroke-width="1.4" />
<rect x="266.40" y="209.60" width="28.60" height="58.80" fill="#848484" stroke="#000" stroke-width="1.4"/>
<line x1="315.10" y1="191.10" x2="315.10" y2="211.00" stroke="#000" stroke-width="1.4" />
<line x1="307.80" y1="191.10" x2="322.40" y2="191.10" stroke="#000" stroke-width="1.4" />
<rect x="300.60" y="211.00" width="29.00" height="57.40" fill="#3c3c3c" stroke="#000" stroke-width="1.4"/>
<line x1="228.35" y1="268.40" x2="332.50" y2="268.40" stroke="#000" stroke-width="1.4" />
<line x1="246.10" y1="268.40" x2="246.10" y2="271.00" stroke="#000" stroke-width="1.4" />
<text transform="translate(246.10 280.50) scale(1.0 1)" font-size="9.9" text-anchor="middle" >PRE</text>
<line x1="280.70" y1="268.40" x2="280.70" y2="271.00" stroke="#000" stroke-width="1.4" />
<text transform="translate(280.70 280.50) scale(1.0 1)" font-size="9.9" text-anchor="middle" >6 MO</text>
<line x1="315.00" y1="268.40" x2="315.00" y2="271.00" stroke="#000" stroke-width="1.4" />
<text transform="translate(315.00 280.50) scale(1.0 1)" font-size="9.9" text-anchor="middle" >12 MO</text>
<text x="196.50" y="213.75" font-size="9.4" text-anchor="middle" transform="rotate(-90 196.50 213.75)" textLength="95.70" lengthAdjust="spacingAndGlyphs" >Polyreactive IgA titer</text>
<text x="280.90" y="183.00" font-size="12" text-anchor="middle" style="stroke-width:0.3px;letter-spacing:0.95px">*</text>
<text x="315.70" y="183.00" font-size="12" text-anchor="middle" style="stroke-width:0.3px;letter-spacing:0.95px">*</text>
<line x1="409.10" y1="164.30" x2="409.10" y2="268.90" stroke="#000" stroke-width="1.4" />
<line x1="406.20" y1="164.80" x2="409.10" y2="164.80" stroke="#000" stroke-width="1.4" />
<text transform="translate(406.10 168.20) scale(1.015 1)" font-size="9.7" text-anchor="end" >1500</text>
<line x1="406.20" y1="199.30" x2="409.10" y2="199.30" stroke="#000" stroke-width="1.4" />
<text transform="translate(406.10 202.70) scale(1.015 1)" font-size="9.7" text-anchor="end" >1000</text>
<line x1="406.20" y1="233.80" x2="409.10" y2="233.80" stroke="#000" stroke-width="1.4" />
<text transform="translate(406.10 237.20) scale(1.015 1)" font-size="9.7" text-anchor="end" >500</text>
<line x1="406.20" y1="268.40" x2="409.10" y2="268.40" stroke="#000" stroke-width="1.4" />
<text transform="translate(406.10 271.80) scale(1.015 1)" font-size="9.7" text-anchor="end" >0</text>
<line x1="426.80" y1="233.40" x2="426.80" y2="240.10" stroke="#000" stroke-width="1.4" />
<line x1="419.50" y1="233.40" x2="434.10" y2="233.40" stroke="#000" stroke-width="1.4" />
<rect x="412.40" y="240.10" width="28.80" height="28.30" fill="#d6d6d6" stroke="#000" stroke-width="1.4"/>
<line x1="461.25" y1="203.40" x2="461.25" y2="216.60" stroke="#000" stroke-width="1.4" />
<line x1="453.95" y1="203.40" x2="468.55" y2="203.40" stroke="#000" stroke-width="1.4" />
<rect x="446.80" y="216.60" width="28.90" height="51.80" fill="#848484" stroke="#000" stroke-width="1.4"/>
<line x1="496.10" y1="184.60" x2="496.10" y2="206.50" stroke="#000" stroke-width="1.4" />
<line x1="488.80" y1="184.60" x2="503.40" y2="184.60" stroke="#000" stroke-width="1.4" />
<rect x="481.60" y="206.50" width="29.00" height="61.90" fill="#3c3c3c" stroke="#000" stroke-width="1.4"/>
<line x1="408.60" y1="268.40" x2="513.60" y2="268.40" stroke="#000" stroke-width="1.4" />
<line x1="426.80" y1="268.40" x2="426.80" y2="271.00" stroke="#000" stroke-width="1.4" />
<text transform="translate(426.80 280.50) scale(1.0 1)" font-size="9.9" text-anchor="middle" >PRE</text>
<line x1="461.20" y1="268.40" x2="461.20" y2="271.00" stroke="#000" stroke-width="1.4" />
<text transform="translate(461.20 280.50) scale(1.0 1)" font-size="9.9" text-anchor="middle" >6 MO</text>
<line x1="496.10" y1="268.40" x2="496.10" y2="271.00" stroke="#000" stroke-width="1.4" />
<text transform="translate(496.10 280.50) scale(1.0 1)" font-size="9.9" text-anchor="middle" >12 MO</text>
<text x="378.00" y="213.75" font-size="9.4" text-anchor="middle" transform="rotate(-90 378.00 213.75)" textLength="100.30" lengthAdjust="spacingAndGlyphs" >Polyreactive  IgM titer</text>
<text x="496.70" y="182.00" font-size="12" text-anchor="middle" style="stroke-width:0.3px;letter-spacing:0.95px">*</text>
</svg>
</body></html>
